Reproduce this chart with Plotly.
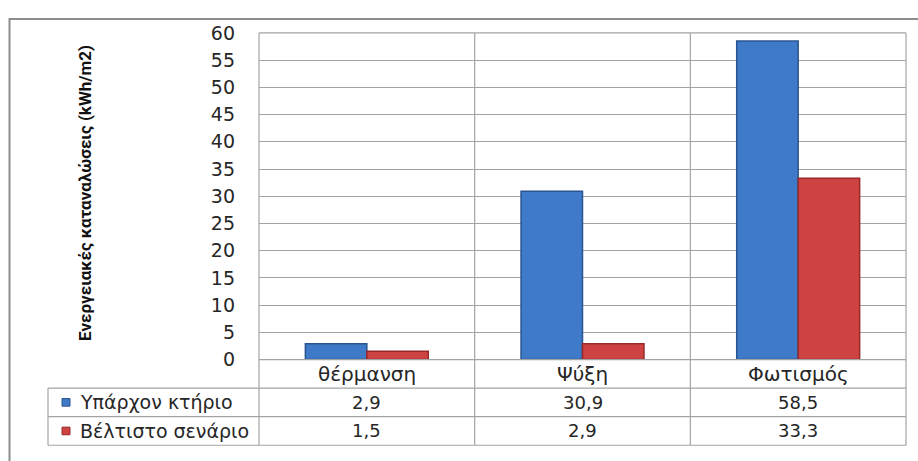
import plotly.graph_objects as go

categories = ["θέρμανση", "Ψύξη", "Φωτισμός"]
series_names = ["Υπάρχον κτήριο", "Βέλτιστο σενάριο"]
existing = [2.9, 30.9, 58.5]
optimal = [1.5, 2.9, 33.3]
y_ticks = list(range(0, 61, 5))
y_title = "Ενεργειακές καταναλώσεις (kWh/m2)"

W, H = 918, 461
def px(x):
    return x / W
def py(y):
    return 1 - y / H

PL, PR, PT, PB = 259, 906, 23, 366
ROW1, ROW2, ROW3 = 396, 426, 456
TL = 48
GRID = "#a3a3a3"
FONT = "DejaVu Sans"
TXT = "#262626"

fig = go.Figure()
colors = [("#3f7ac8", "#2a5490"), ("#cf4242", "#962a2a")]
for name, vals, (c, lc) in zip(series_names, [existing, optimal], colors):
    fig.add_trace(go.Bar(x=categories, y=vals, name=name,
                         marker=dict(color=c, line=dict(color=lc, width=1.5))))

fig.update_layout(
    width=W, height=H, margin=dict(l=0, r=0, t=0, b=0),
    paper_bgcolor="white", plot_bgcolor="white",
    showlegend=False, bargap=0.43, bargroupgap=0,
    font=dict(family=FONT, size=18, color=TXT),
    xaxis=dict(domain=[px(PL), px(PR)], showticklabels=False, showgrid=False,
               zeroline=False, showline=False, range=[-0.5, len(categories) - 0.5]),
    yaxis=dict(domain=[py(PB), py(PT)], range=[0, 60], tickvals=y_ticks,
               showgrid=True, gridcolor=GRID, gridwidth=1.2, zeroline=False,
               showline=False, ticks="", ticklabelstandoff=23,
               tickfont=dict(family=FONT, size=19, color=TXT)),
)

shapes = []
def line(x0, y0, x1, y1, w=1.2, c=GRID):
    shapes.append(dict(type="line", xref="paper", yref="paper",
                       x0=px(x0), y0=py(y0), x1=px(x1), y1=py(y1),
                       line=dict(color=c, width=w)))

# outer frame
shapes.append(dict(type="rect", xref="paper", yref="paper",
                   x0=px(9.5), y0=py(480), x1=px(940), y1=py(8.5),
                   line=dict(color="#8c8c8c", width=2)))
line(PL, PT, PL, ROW3)
line(PR, PT, PR, ROW3)
line(PL, PT, PR, PT)
line(PL, PB, PR, PB)
for yy in (ROW1, ROW2, ROW3):
    line(TL, yy, PR, yy)
line(TL, ROW1, TL, ROW3)
for i in range(len(categories) - 1):
    shapes.append(dict(type="line", xref="x", yref="paper",
                       x0=i + 0.5, x1=i + 0.5, y0=py(ROW3), y1=py(PT),
                       line=dict(color=GRID, width=1.2)))
for (c, lc), yc in zip(colors, [(ROW1 + ROW2) / 2, (ROW2 + ROW3) / 2]):
    shapes.append(dict(type="rect", xref="paper", yref="paper",
                       x0=px(62), x1=px(70), y0=py(yc + 4), y1=py(yc - 4),
                       fillcolor=c, line=dict(color=lc, width=1)))

ann = []
for i, cat in enumerate(categories):
    ann.append(dict(x=i, xref="x", y=py((PB + ROW1) / 2), yref="paper",
                    text=cat, showarrow=False, yanchor="middle",
                    font=dict(family=FONT, size=20, color=TXT)))
for r, (name, vals) in enumerate(zip(series_names, [existing, optimal])):
    yc = (ROW1 + ROW2) / 2 if r == 0 else (ROW2 + ROW3) / 2
    ann.append(dict(x=px(78), xref="paper", y=py(yc), yref="paper", text=name,
                    showarrow=False, xanchor="left", yanchor="middle",
                    font=dict(family=FONT, size=19, color=TXT)))
    for i, v in enumerate(vals):
        ann.append(dict(x=i, xref="x", y=py(yc), yref="paper",
                        text=f"{v:.1f}".replace(".", ","), showarrow=False,
                        yanchor="middle"))
ann.append(dict(x=px(85), xref="paper", y=py(191), yref="paper", text="<b>" + y_title + "</b>",
                textangle=-90, showarrow=False,
                font=dict(family="Roboto", size=17, color="#111"),
                xanchor="center", yanchor="middle"))
fig.update_layout(shapes=shapes, annotations=ann)
fig.write_html("out.html")
